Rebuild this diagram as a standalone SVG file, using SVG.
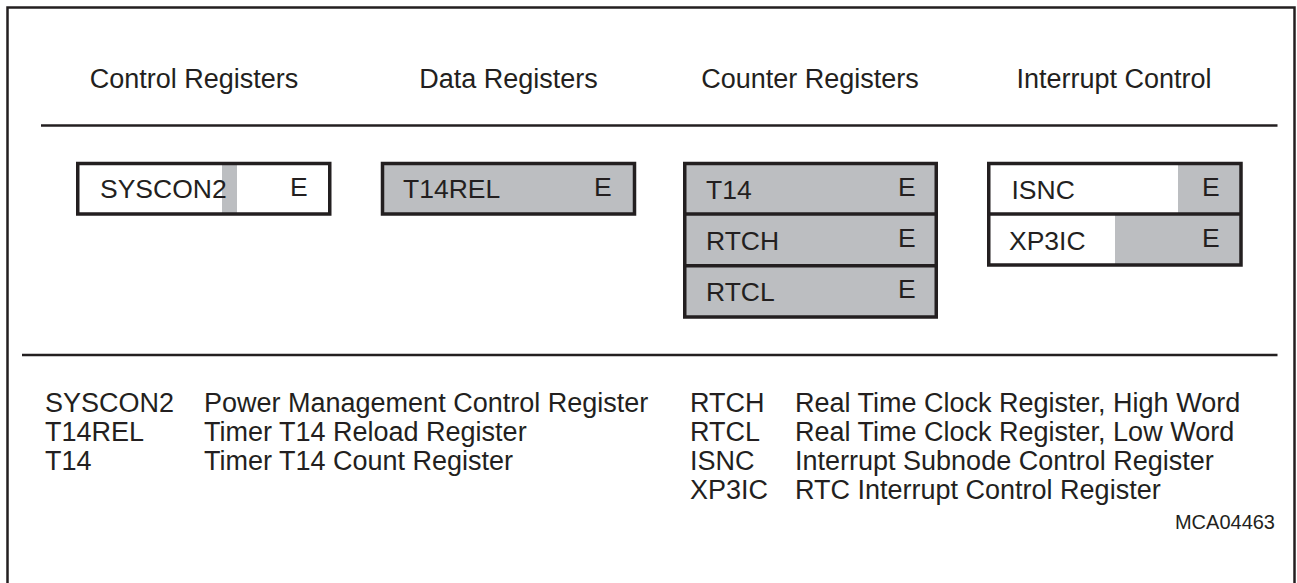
<svg xmlns="http://www.w3.org/2000/svg" width="1297" height="583" viewBox="0 0 1297 583">
<style>
text{font-family:"Liberation Sans",Arial,Helvetica,sans-serif;fill:#231f20}
.h{font-size:27px;text-anchor:middle}
.b{font-size:26.5px}
.l{font-size:27px}
.box{fill:none;stroke:#231f20;stroke-width:3.5}
.g{fill:#bcbec1}
.sep{stroke:#231f20;stroke-width:2.3}
</style>
<rect x="7.5" y="7.5" width="1287" height="590" fill="#fff" stroke="#231f20" stroke-width="2.5"/>
<g id="headers">
<text class="h" x="194" y="88">Control Registers</text>
<text class="h" x="508.5" y="88">Data Registers</text>
<text class="h" x="810" y="88">Counter Registers</text>
<text class="h" x="1114" y="88">Interrupt Control</text>
</g>
<g id="separators">
<line class="sep" x1="41" y1="125.5" x2="1277.5" y2="125.5"/>
<line class="sep" x1="22" y1="355" x2="1277.5" y2="355"/>
</g>
<g id="SYSCON2">
<rect class="g" x="222" y="163.5" width="15" height="50.5"/>
<rect class="box" x="77.75" y="163.5" width="252" height="50.5"/>
<text class="b" x="100" y="198">SYSCON2</text>
<text class="b" x="290" y="196">E</text>
</g>
<g id="T14REL">
<rect class="g" x="382.5" y="163.5" width="252" height="50.5"/>
<rect class="box" x="382.5" y="163.5" width="252" height="50.5"/>
<text class="b" x="403" y="198">T14REL</text>
<text class="b" x="594" y="196">E</text>
</g>
<g id="counter">
<rect class="g" x="684.75" y="163.5" width="251.5" height="153.5"/>
<rect class="box" x="684.75" y="163.5" width="251.5" height="153.5"/>
<line class="box" x1="684.75" y1="214" x2="936.25" y2="214"/>
<line class="box" x1="684.75" y1="265.7" x2="936.25" y2="265.7"/>
<text class="b" x="706" y="199">T14</text>
<text class="b" x="898" y="196">E</text>
<text class="b" x="706" y="250">RTCH</text>
<text class="b" x="898" y="247">E</text>
<text class="b" x="706" y="300.5">RTCL</text>
<text class="b" x="898" y="298">E</text>
</g>
<g id="interrupt">
<rect class="g" x="1178" y="163.5" width="63" height="50.5"/>
<rect class="g" x="1115" y="214" width="126" height="51"/>
<rect class="box" x="988.75" y="163.5" width="252.25" height="101.5"/>
<line class="box" x1="988.75" y1="214" x2="1241" y2="214"/>
<text class="b" x="1011.5" y="199">ISNC</text>
<text class="b" x="1202" y="196">E</text>
<text class="b" x="1009" y="250">XP3IC</text>
<text class="b" x="1202" y="247">E</text>
</g>
<g id="legend">
<text class="l" x="45" y="411.7">SYSCON2</text>
<text class="l" x="204" y="411.7">Power Management Control Register</text>
<text class="l" x="45" y="441">T14REL</text>
<text class="l" x="204" y="441">Timer T14 Reload Register</text>
<text class="l" x="45" y="470">T14</text>
<text class="l" x="204" y="470">Timer T14 Count Register</text>
<text class="l" x="690" y="411.7">RTCH</text>
<text class="l" x="795" y="411.7">Real Time Clock Register, High Word</text>
<text class="l" x="690" y="441">RTCL</text>
<text class="l" x="795" y="441">Real Time Clock Register, Low Word</text>
<text class="l" x="690" y="470">ISNC</text>
<text class="l" x="795" y="470">Interrupt Subnode Control Register</text>
<text class="l" x="690" y="499">XP3IC</text>
<text class="l" x="795" y="499">RTC Interrupt Control Register</text>
<text x="1275" y="529" font-size="20" text-anchor="end">MCA04463</text>
</g>
</svg>
